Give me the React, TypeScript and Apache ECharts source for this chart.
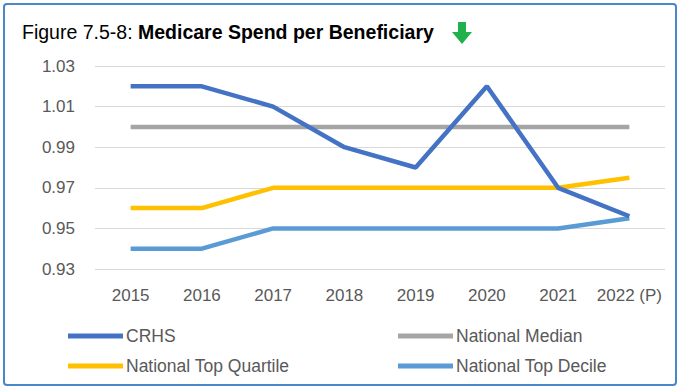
import React, { useEffect, useRef } from "react";
import * as echarts from "echarts";

const categories = ["2015", "2016", "2017", "2018", "2019", "2020", "2021", "2022 (P)"];
const crhs = [1.02, 1.02, 1.01, 0.99, 0.98, 1.02, 0.97, 0.956];
const nationalMedian = [1.0, 1.0, 1.0, 1.0, 1.0, 1.0, 1.0, 1.0];
const topQuartile = [0.96, 0.96, 0.97, 0.97, 0.97, 0.97, 0.97, 0.975];
const topDecile = [0.94, 0.94, 0.95, 0.95, 0.95, 0.95, 0.95, 0.955];

const FONT = "'Liberation Sans', Arial, sans-serif";

export default function App() {
  const ref = useRef<HTMLDivElement>(null);
  useEffect(() => {
    if (!ref.current) return;
    const chart = echarts.init(ref.current, undefined, { renderer: "svg" });
    const mk = (name: string, data: number[], color: string) => ({
      name,
      type: "line",
      data,
      symbol: "none",
      lineStyle: { color, width: 4.5 },
      itemStyle: { color },
    });
    const legendCommon = {
      orient: "vertical",
      itemWidth: 55,
      itemHeight: 5,
      itemGap: 12,
      padding: 0,
      icon: "rect",
      textStyle: { fontFamily: FONT, fontSize: 17.5, color: "#595959", padding: [0, 0, 0, -2] },
    };
    chart.setOption({
      animation: false,
      backgroundColor: "#ffffff",
      grid: { left: 95, right: 14, top: 66, bottom: 118 },
      xAxis: {
        type: "category",
        data: categories,
        boundaryGap: true,
        axisLine: { show: false },
        axisTick: { show: false },
        axisLabel: { fontFamily: FONT, fontSize: 17, color: "#595959", margin: 18, interval: 0 },
      },
      yAxis: {
        type: "value",
        min: 0.93,
        max: 1.03,
        interval: 0.02,
        axisLabel: {
          fontFamily: FONT,
          fontSize: 17,
          color: "#595959",
          margin: 20,
          formatter: (v: number) => v.toFixed(2),
        },
        splitLine: { lineStyle: { color: "#d9d9d9", width: 1 } },
      },
      legend: [
        { ...legendCommon, left: 68, top: 327, data: ["CRHS", "National Top Quartile"] },
        { ...legendCommon, left: 398, top: 327, data: ["National Median", "National Top Decile"] },
      ],
      series: [
        mk("National Median", nationalMedian, "#a5a5a5"),
        mk("National Top Quartile", topQuartile, "#ffc000"),
        mk("National Top Decile", topDecile, "#5b9bd5"),
        mk("CRHS", crhs, "#4472c4"),
      ],
      graphic: [
        {
          type: "rect",
          shape: { x: 4, y: 4, width: 672, height: 381, r: 3 },
          style: { fill: "none", stroke: "#4a86c8", lineWidth: 2 },
          silent: true,
        },
        {
          type: "text",
          left: 22,
          top: 22,
          style: {
            text: "{a|Figure 7.5-8: }{b|Medicare Spend per Beneficiary}",
            rich: {
              a: { fontFamily: FONT, fontSize: 19.5, color: "#404040" },
              b: { fontFamily: FONT, fontSize: 19.5, fontWeight: "bold", color: "#404040" },
            },
          },
        },
        {
          type: "polygon",
          shape: {
            points: [
              [458, 22],
              [466, 22],
              [466, 32],
              [472, 32],
              [462, 44],
              [452, 32],
              [458, 32],
            ],
          },
          style: { fill: "#22b04b" },
        },
      ],
    });
    return () => chart.dispose();
  }, []);
  return <div ref={ref} style={{ position: "fixed", left: 0, top: 0, width: 679, height: 387 }} />;
}
